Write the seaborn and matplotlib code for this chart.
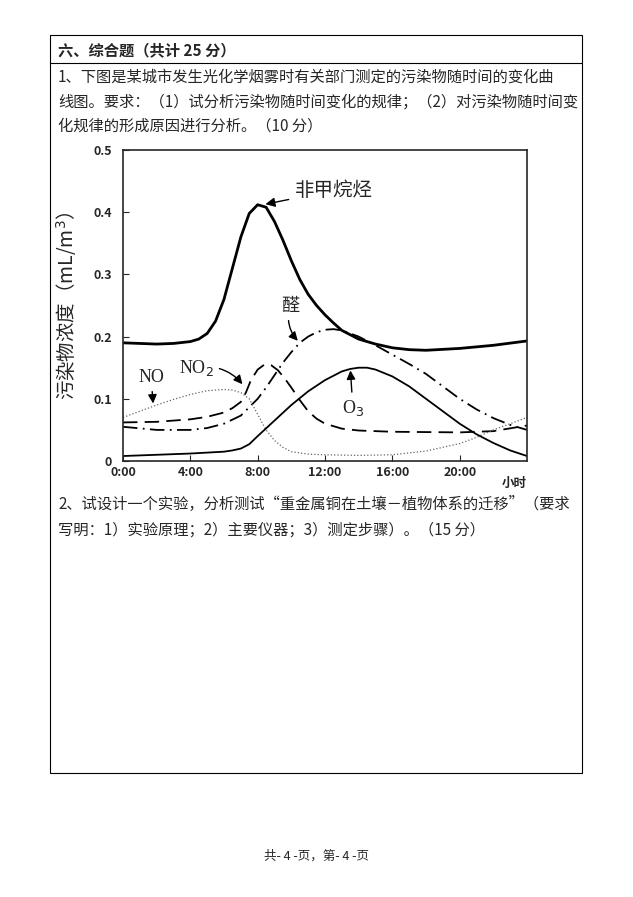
import numpy as np
import matplotlib.pyplot as plt
import matplotlib.patches as mpatches
import seaborn as sns

sns.set_style("ticks")
plt.rcParams['font.family'] = ['Noto Sans CJK SC', 'DejaVu Sans']

# data (hour, value)
hc_t = [0, 1, 2, 3, 4, 4.5, 5, 5.5, 6, 6.5, 7, 7.5, 8, 8.5, 9, 9.5, 10, 10.5, 11, 11.5, 12, 12.5, 13, 14, 15, 16, 17, 18, 20, 22, 24]
hc_v = [0.19, 0.189, 0.188, 0.189, 0.192, 0.196, 0.205, 0.225, 0.26, 0.31, 0.36, 0.398, 0.412, 0.408, 0.385, 0.355, 0.322, 0.292, 0.268, 0.25, 0.235, 0.222, 0.21, 0.196, 0.188, 0.182, 0.179, 0.178, 0.181, 0.186, 0.193]
no2_t = [0, 2, 4, 5, 6, 6.5, 7, 7.3, 7.6, 8, 8.4, 8.8, 9.2, 9.6, 10, 10.5, 11, 11.5, 12, 13, 14, 16, 20, 22, 24]
no2_v = [0.062, 0.063, 0.067, 0.071, 0.078, 0.085, 0.095, 0.11, 0.13, 0.147, 0.155, 0.154, 0.146, 0.133, 0.118, 0.098, 0.08, 0.068, 0.06, 0.052, 0.049, 0.047, 0.046, 0.048, 0.057]
ald_t = [0, 2, 4, 5, 6, 7, 8, 8.5, 9, 9.5, 10, 10.5, 11, 11.5, 12, 12.5, 13, 13.5, 14, 15, 16, 17, 18, 19, 20, 21, 22, 23, 24]
ald_v = [0.055, 0.05, 0.05, 0.053, 0.06, 0.073, 0.1, 0.118, 0.138, 0.158, 0.175, 0.19, 0.2, 0.207, 0.211, 0.212, 0.21, 0.205, 0.2, 0.186, 0.171, 0.156, 0.14, 0.12, 0.1, 0.083, 0.069, 0.058, 0.05]
no_t = [0, 1, 2, 3, 4, 5, 6, 6.5, 7, 7.5, 8, 8.5, 9, 9.5, 10, 11, 12, 14, 16, 18, 20, 21, 22, 23, 24]
no_v = [0.07, 0.08, 0.09, 0.099, 0.107, 0.113, 0.115, 0.114, 0.11, 0.1, 0.075, 0.05, 0.033, 0.022, 0.015, 0.011, 0.01, 0.009, 0.01, 0.016, 0.028, 0.038, 0.05, 0.06, 0.07]
o3_t = [0, 2, 4, 6, 6.5, 7, 7.5, 8, 9, 10, 11, 12, 13, 13.5, 14, 14.5, 15, 16, 17, 18, 19, 20, 21, 22, 23, 24]
o3_v = [0.008, 0.01, 0.012, 0.015, 0.017, 0.02, 0.027, 0.04, 0.065, 0.09, 0.112, 0.13, 0.144, 0.148, 0.15, 0.15, 0.147, 0.136, 0.12, 0.1, 0.08, 0.06, 0.043, 0.029, 0.017, 0.008]
xticks = [0, 4, 8, 12, 16, 20]
xlabels = ['0:00', '4:00', '8:00', '12:00', '16:00', '20:00']

fig = plt.figure(figsize=(6.33, 8.97), dpi=100)

# page frame
fig.patches.append(mpatches.Rectangle((50/633, 1-773/897), 532/633, 738/897, fill=False, lw=0.8,
                                      edgecolor='k', transform=fig.transFigure, figure=fig))
fig.add_artist(plt.Line2D([50/633, 582/633], [1-63/897]*2, lw=0.8, color='k', transform=fig.transFigure))
fs = 11
fig.text(58/633, 1-50/897, '六、综合题（共计 25 分）', fontsize=fs, fontweight='bold', va='center')
fig.text(58/633, 1-77/897, '1、下图是某城市发生光化学烟雾时有关部门测定的污染物随时间的变化曲', fontsize=fs, va='center')
fig.text(58/633, 1-102/897, '线图。要求：（1）试分析污染物随时间变化的规律；（2）对污染物随时间变', fontsize=fs, va='center')
fig.text(58/633, 1-126/897, '化规律的形成原因进行分析。（10 分）', fontsize=fs, va='center')
fig.text(58/633, 1-504/897, '2、试设计一个实验，分析测试“重金属铜在土壤－植物体系的迁移”（要求', fontsize=fs, va='center')
fig.text(58/633, 1-530/897, '写明：1）实验原理；2）主要仪器；3）测定步骤）。（15 分）', fontsize=fs, va='center')
fig.text(0.5, 1-856/897, '共- 4 -页，第- 4 -页', fontsize=9, ha='center', va='center')

ax = fig.add_axes([123/633, 1-461/897, 404/633, 311/897])
sns.lineplot(x=hc_t, y=hc_v, ax=ax, color='k', lw=2)
sns.lineplot(x=no2_t, y=no2_v, ax=ax, color='k', lw=1.3, linestyle=(0, (8, 4)))
sns.lineplot(x=ald_t, y=ald_v, ax=ax, color='k', lw=1.3, linestyle=(0, (8, 3, 1, 3)))
sns.lineplot(x=no_t, y=no_v, ax=ax, color='#666666', lw=0.9, linestyle=':')
sns.lineplot(x=o3_t, y=o3_v, ax=ax, color='k', lw=1.3)
ax.set_xlim(0, 24)
ax.set_ylim(0, 0.5)
ax.set_xticks(xticks, xlabels, fontweight='bold', fontsize=9)
ax.set_yticks([0, 0.1, 0.2, 0.3, 0.4, 0.5], ['0', '0.1', '0.2', '0.3', '0.4', '0.5'], fontweight='bold', fontsize=9)
ax.tick_params(direction='in', length=4)
ax.tick_params(axis='y', pad=8)
ax.text(24, -0.025, '小时', ha='right', va='top', fontsize=9, fontweight='bold')
for s in ax.spines.values():
    s.set_linewidth(1.2)
ax.set_ylabel('污染物浓度（mL/m$^3$）', fontsize=14, labelpad=10)

arr = dict(arrowstyle='-|>', color='k', lw=1)
ax.annotate('非甲烷烃', xy=(8.3, 0.412), xytext=(10.2, 0.435), fontsize=14, va='center', arrowprops=arr)
ax.annotate('醛', xy=(10.5, 0.19), xytext=(9.4, 0.25), fontsize=13, va='center',
            arrowprops=dict(arr, connectionstyle='arc3,rad=0.3'))
ax.annotate('NO$_2$', xy=(7.2, 0.12), xytext=(3.3, 0.15), fontsize=13, va='center', family='Liberation Serif',
            arrowprops=dict(arr, connectionstyle='arc3,rad=-0.3'))
ax.annotate('NO', xy=(1.8, 0.088), xytext=(0.9, 0.135), fontsize=13, va='center', family='Liberation Serif',
            arrowprops=arr)
ax.annotate('O$_3$', xy=(13.5, 0.15), xytext=(13.0, 0.085), fontsize=13, va='center', family='Liberation Serif',
            arrowprops=arr)

fig.savefig('out.png', dpi=100)
